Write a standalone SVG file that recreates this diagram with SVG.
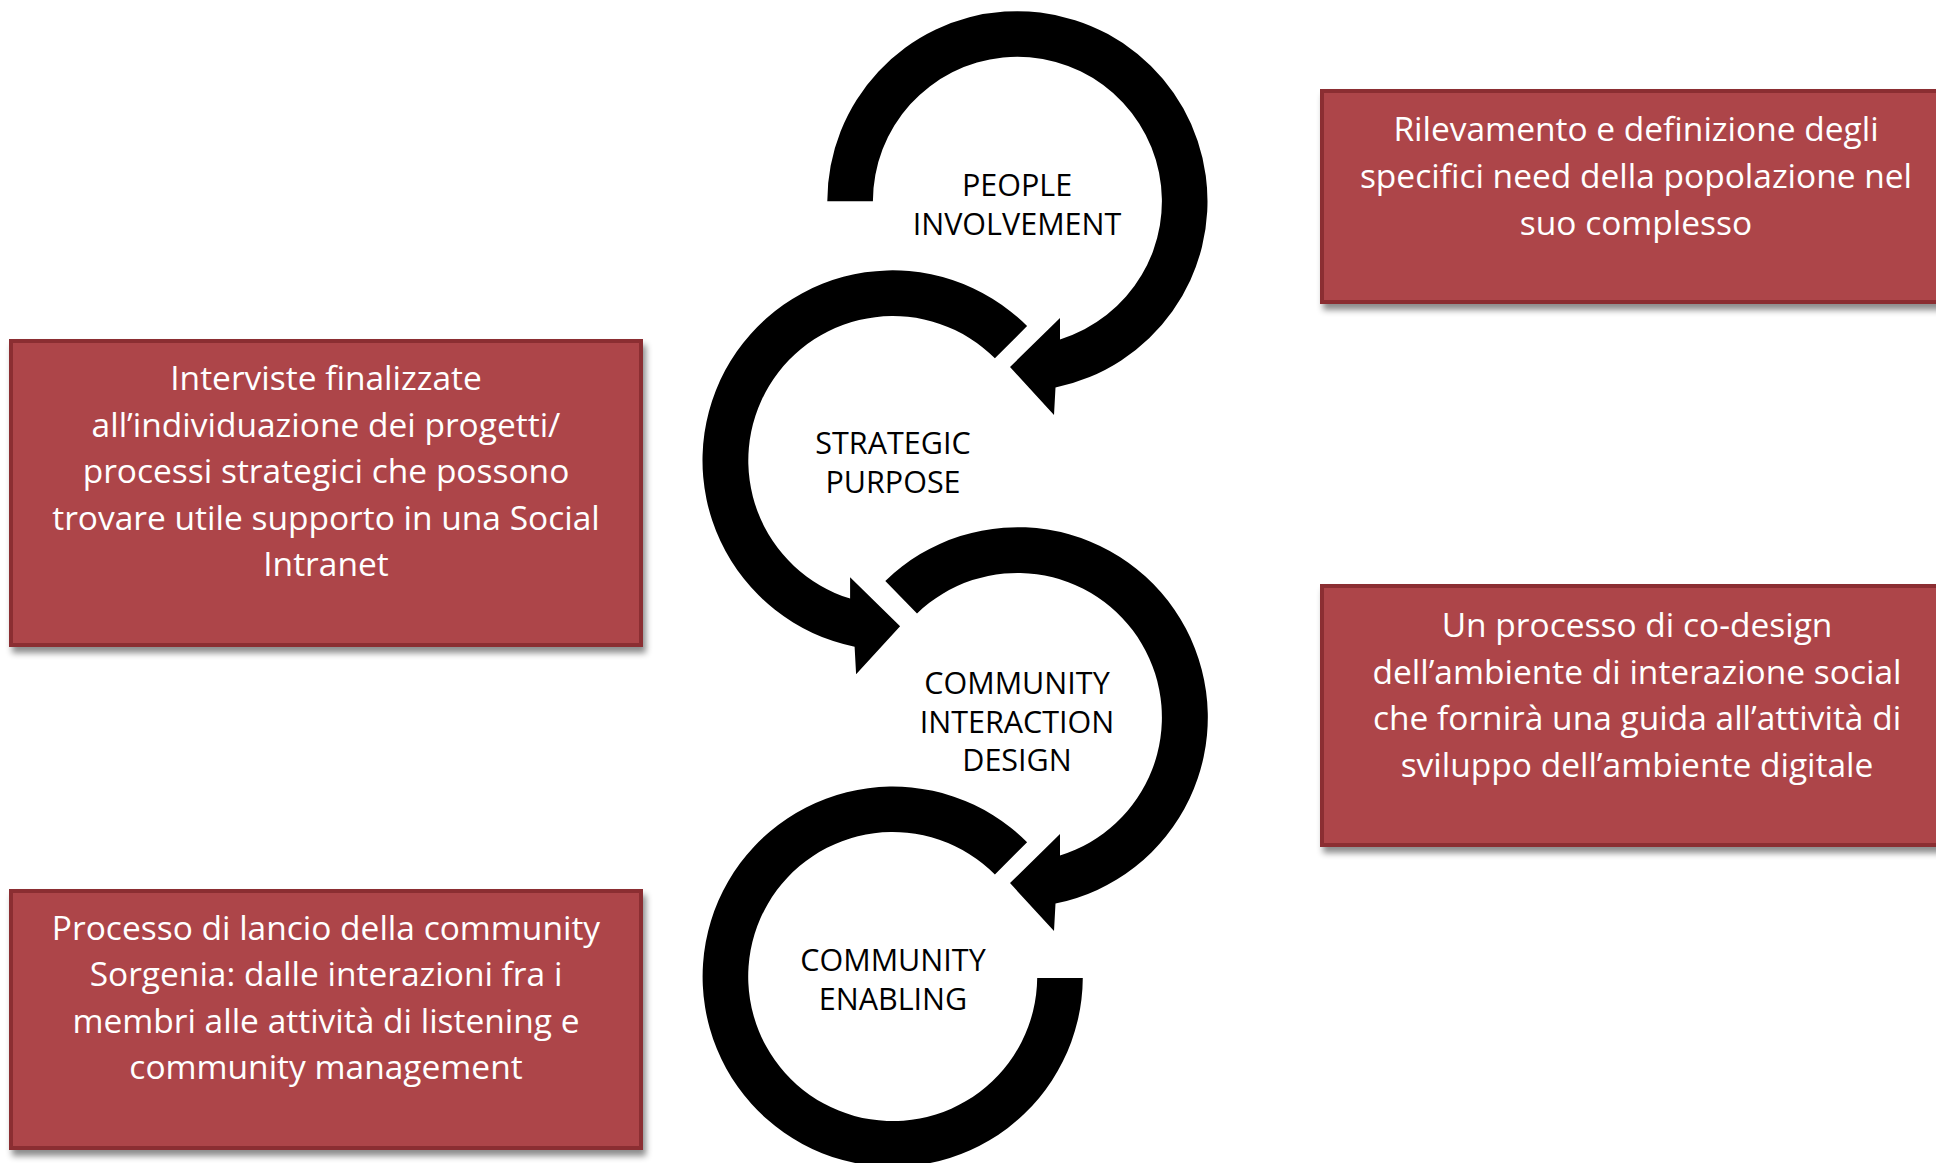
<svg xmlns="http://www.w3.org/2000/svg" width="1936" height="1163" viewBox="0 0 1936 1163">
<defs>
<filter id="sh" x="-5%" y="-5%" width="115%" height="120%">
<feDropShadow dx="3" dy="6" stdDeviation="3" flood-color="#000" flood-opacity="0.45"/>
</filter>
<style>
.box{fill:#ad4449;stroke:#8b2e33;stroke-width:4;filter:url(#sh)}
.bt{font-family:"Open Sans","Noto Sans",sans-serif;font-size:33.5px;fill:#fff;text-anchor:middle}
.lb{font-family:"Open Sans","Noto Sans",sans-serif;font-size:30.5px;fill:#000;text-anchor:middle}
.arr{fill:#000;stroke:none}
</style>
</defs>
<rect width="1936" height="1163" fill="#fff"/>
<g id="connectors">
<path class="arr" d="M 827.3 201.3 A 190.1 190.1 0 1 1 1055.5 387.5 L 1054 415 L 1010 367 L 1060 318 L 1060 339.4 A 144.5 144.5 0 1 0 872.9 201.3 Z"/>
<path class="arr" d="M 1027.1 326.1 A 190.1 190.1 0 1 0 854.6 646.7 L 856.1 674.2 L 900.1 626.2 L 850.1 577.2 L 850.1 598.6 A 144.5 144.5 0 1 1 994.9 358.3 Z"/>
<path class="arr" d="M 885.3 580.9 A 190.1 190.1 0 1 1 1055.5 903.6 L 1054 931.1 L 1010 883.1 L 1060 834.1 L 1060 855.5 A 144.5 144.5 0 1 0 917.0 613.5 Z"/>
<path class="arr" d="M 1027.1 842.2 A 190.1 190.1 0 1 0 1082.8 978 L 1037.2 978 A 144.5 144.5 0 1 1 994.9 874.4 Z"/>
</g>
<g id="node-people">
<text class="lb" x="1017" y="196">PEOPLE</text>
<text class="lb" x="1017" y="234.5">INVOLVEMENT</text>
</g>
<g id="node-strategic">
<text class="lb" x="893" y="454">STRATEGIC</text>
<text class="lb" x="893" y="492.5">PURPOSE</text>
</g>
<g id="node-interaction">
<text class="lb" x="1017" y="694">COMMUNITY</text>
<text class="lb" x="1017" y="732.5">INTERACTION</text>
<text class="lb" x="1017" y="771">DESIGN</text>
</g>
<g id="node-enabling">
<text class="lb" x="893" y="971">COMMUNITY</text>
<text class="lb" x="893" y="1009.5">ENABLING</text>
</g>
<g id="box-rilevamento">
<rect class="box" x="1322" y="91" width="630" height="211"/>
<text class="bt" x="1636" y="141">Rilevamento e definizione degli</text>
<text class="bt" x="1636" y="188">specifici need della popolazione nel</text>
<text class="bt" x="1636" y="235">suo complesso</text>
</g>
<g id="box-interviste">
<rect class="box" x="11" y="341" width="630" height="304"/>
<text class="bt" x="326" y="390">Interviste finalizzate</text>
<text class="bt" x="326" y="436.5">all’individuazione dei progetti/</text>
<text class="bt" x="326" y="483">processi strategici che possono</text>
<text class="bt" x="326" y="529.5">trovare utile supporto in una Social</text>
<text class="bt" x="326" y="576">Intranet</text>
</g>
<g id="box-codesign">
<rect class="box" x="1322" y="586" width="630" height="259"/>
<text class="bt" x="1637" y="637">Un processo di co-design</text>
<text class="bt" x="1637" y="683.5">dell’ambiente di interazione social</text>
<text class="bt" x="1637" y="730">che fornirà una guida all’attività di</text>
<text class="bt" x="1637" y="776.5">sviluppo dell’ambiente digitale</text>
</g>
<g id="box-lancio">
<rect class="box" x="11" y="891" width="630" height="257"/>
<text class="bt" x="326" y="939.5">Processo di lancio della community</text>
<text class="bt" x="326" y="986">Sorgenia: dalle interazioni fra i</text>
<text class="bt" x="326" y="1032.5">membri alle attività di listening e</text>
<text class="bt" x="326" y="1079">community management</text>
</g>
</svg>
